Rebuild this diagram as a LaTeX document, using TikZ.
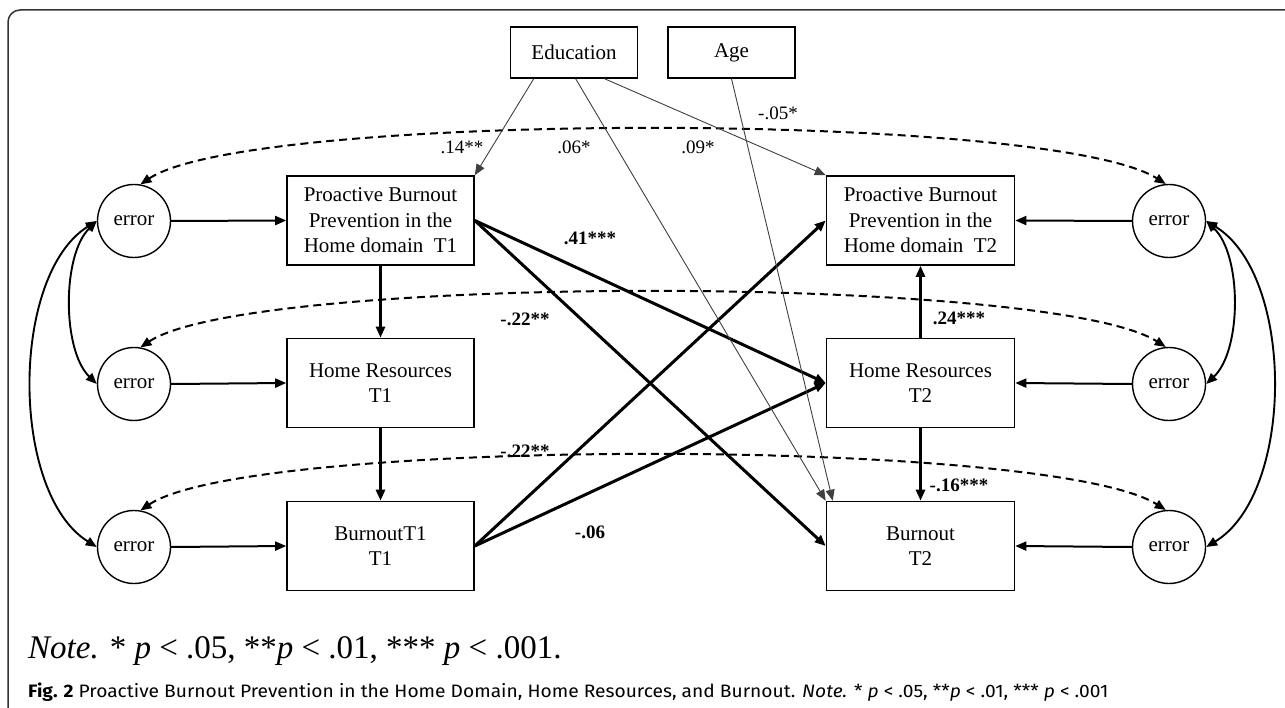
\documentclass[tikz,border=0pt]{standalone}
\usepackage{fontspec}
\setmainfont{Liberation Serif}
\newfontfamily\capfont{Fira Sans}
\usetikzlibrary{arrows.meta,calc}
\begin{document}
\begin{tikzpicture}[x=1pt,y=-1pt,
  box/.style={draw=black,line width=1.6pt,rectangle,minimum width=187pt,minimum height=89pt,align=center,inner sep=0pt,font=\fontsize{21}{25.5}\selectfont},
  cbox/.style={box,minimum width=127pt,minimum height=51pt},
  err/.style={draw=black,circle,line width=1.4pt,minimum size=73pt,inner sep=0pt,font=\fontsize{21}{25}\selectfont},
  tip/.style={-{Triangle[length=11pt,width=9pt]}},
  dtip/.style={{Triangle[length=11pt,width=9pt]}-{Triangle[length=11pt,width=9pt]}},
  thickarr/.style={tip,line width=3pt},
  vertarr/.style={tip,line width=2.6pt},
  errarr/.style={tip,line width=2pt},
  thinarr/.style={tip,line width=0.9pt,draw=black!75},
  covarr/.style={dtip,line width=1.9pt},
  dsh/.style={dtip,line width=2pt,dash pattern=on 8pt off 5pt},
  lab/.style={inner sep=0pt,font=\fontsize{19}{22}\selectfont},
  blab/.style={inner sep=0pt,font=\fontsize{19}{22}\selectfont\bfseries}
]
\useasboundingbox (0,0) rectangle (1285,708);
\clip (0,0) rectangle (1285,708);
\fill[white] (0,0) rectangle (1285,708);
% frame
\draw[line width=1.5pt,black!80,rounded corners=12pt] (8,760) -- (8,10) -- (1330,10) -- (1330,760);

% covariates
\node[cbox] (edu) at (574,52.5) {Education};
\node[cbox] (age) at (731.5,52.5) {Age};

% T1 boxes
\node[box] (pbp1) at (380.5,220.5) {Proactive Burnout\\Prevention in the\\Home domain\ \ T1};
\node[box] (hr1) at (380.5,383) {Home Resources\\T1};
\node[box] (bo1) at (380.5,546) {BurnoutT1\\T1};
% T2 boxes
\node[box,minimum width=188pt] (pbp2) at (920.5,220.5) {Proactive Burnout\\Prevention in the\\Home domain\ \ T2};
\node[box,minimum width=188pt] (hr2) at (920.5,383) {Home Resources\\T2};
\node[box,minimum width=188pt] (bo2) at (920.5,546) {Burnout\\T2};

% error circles
\node[err] (e1L) at (134,221) {error};
\node[err] (e2L) at (134,384) {error};
\node[err] (e3L) at (134,547) {error};
\node[err] (e1R) at (1169,221) {error};
\node[err] (e2R) at (1169,384) {error};
\node[err] (e3R) at (1169,547) {error};

% dashed covariances
\draw[dsh] (e1L.80) .. controls (250,111) and (1050,111) .. (e1R.95);
\draw[dsh] (e2L.80) .. controls (250,274) and (1050,274) .. (e2R.95);
\draw[dsh] (e3L.80) .. controls (250,437) and (1050,437) .. (e3R.95);

% error to box
\draw[errarr] (e1L.east) -- (pbp1.west);
\draw[errarr] (e2L.east) -- (hr1.west);
\draw[errarr] (e3L.east) -- (bo1.west);
\draw[errarr] (e1R.west) -- (pbp2.east);
\draw[errarr] (e2R.west) -- (hr2.east);
\draw[errarr] (e3R.west) -- (bo2.east);

% error covariances
\draw[covarr] (e1L.west) .. controls (62,255) and (62,350) .. (e2L.west);
\draw[covarr] (e1L.west) .. controls (10,275) and (10,493) .. (e3L.west);
\draw[covarr] (e1R.east) .. controls (1242,255) and (1242,350) .. (e2R.east);
\draw[covarr] (e1R.east) .. controls (1295,275) and (1295,493) .. (e3R.east);

% vertical paths
\draw[vertarr] (pbp1.south) -- (hr1.north);
\draw[vertarr] (hr1.south) -- (bo1.north);
\draw[vertarr] (hr2.north) -- (pbp2.south);
\draw[vertarr] (hr2.south) -- (bo2.north);

% cross-lagged paths
\draw[thickarr] (pbp1.east) -- (hr2.west);
\draw[thickarr] (pbp1.east) -- (bo2.west);
\draw[thickarr] (bo1.east) -- (pbp2.west);
\draw[thickarr] (bo1.east) -- (hr2.west);

% covariate paths
\draw[thinarr] ([xshift=24pt]edu.south west) -- (pbp1.north east);
\draw[thinarr] ([xshift=66pt]edu.south west) -- (bo2.north west);
\draw[thinarr] ([xshift=95pt]edu.south west) -- (pbp2.north west);
\draw[thinarr] (age.south) -- ([xshift=7pt]bo2.north west);

% labels
\node[lab] (l14) at (462,147) {.14**};
\node[lab] (l06) at (574,147) {.06*};
\node[lab] (l09) at (698,147) {.09*};
\node[lab] (l05) at (778,113) {-.05*};
\node[blab] (l41) at (590,238) {.41***};
\node[blab] (l22a) at (525,319) {-.22**};
\node[blab] (l22b) at (525,451) {-.22**};
\node[blab] (l24) at (959,318) {.24***};
\node[blab] (l16) at (959,485) {-.16***};
\node[blab] (l06b) at (590,532) {-.06};

% note
\node[anchor=base west,inner sep=0pt,font=\fontsize{33}{36}\selectfont] (note) at (28,658)
  {\textit{Note.} * \textit{p} < .05, **\textit{p} < .01, *** \textit{p} < .001.};
% caption
\node[anchor=base west,inner sep=0pt] (cap) at (28,697)
  {\resizebox{1080pt}{\height}{\capfont\fontsize{18}{20}\selectfont\textbf{Fig. 2} Proactive Burnout Prevention in the Home Domain, Home Resources, and Burnout. \textit{Note.} * \textit{p} < .05, **\textit{p} < .01, *** \textit{p} < .001}};
\end{tikzpicture}
\end{document}
